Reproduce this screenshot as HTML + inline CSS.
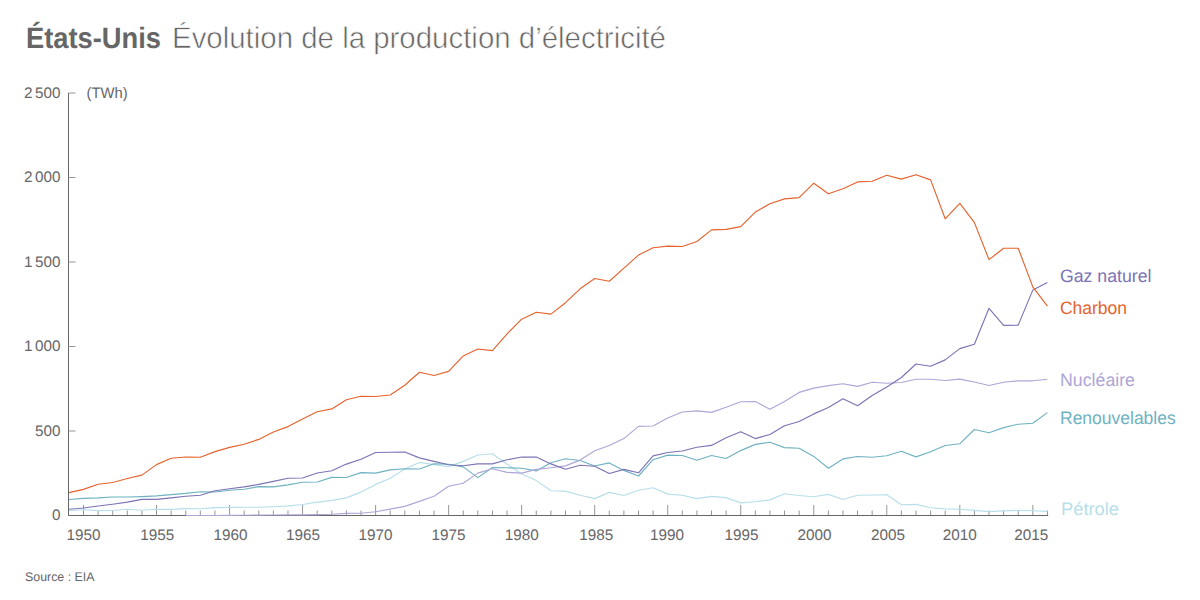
<!DOCTYPE html>
<html lang="fr"><head><meta charset="utf-8"><title>États-Unis Évolution de la production d’électricité</title>
<style>
html,body{margin:0;padding:0;background:#fff;}
body{width:1200px;height:600px;overflow:hidden;position:relative;font-family:"Liberation Sans",Arial,sans-serif;}
svg{position:absolute;left:0;top:0;}
text{text-rendering:geometricPrecision;font-family:"Liberation Sans",Arial,sans-serif;}
.tk{font-size:15.3px;fill:#666;font-family:"Liberation Sans",Arial,sans-serif;}
.yl{word-spacing:-1.6px;}
.lb{font-size:18px;font-family:"Liberation Sans",Arial,sans-serif;}
.t1{font-size:29.5px;font-weight:bold;fill:#666;}
.t2{font-size:30px;fill:#646464;stroke:#fff;stroke-width:0.6px;}
.sr{font-size:12.5px;fill:#666;}
</style></head><body>
<svg width="1200" height="600" viewBox="0 0 1200 600">
<path d="M68.5,93 H75.5" fill="none" stroke="#969696" stroke-width="1"/>
<path d="M68.5,93 V515.5 H1048.2" fill="none" stroke="#666666" stroke-width="1"/>
<path d="M68.5,431.0 H75.5" stroke="#969696" stroke-width="1"/>
<path d="M68.5,346.5 H75.5" stroke="#969696" stroke-width="1"/>
<path d="M68.5,262.0 H75.5" stroke="#969696" stroke-width="1"/>
<path d="M68.5,177.5 H75.5" stroke="#969696" stroke-width="1"/>
<path d="M83.51,515 V505.0" stroke="#969696" stroke-width="1"/>
<path d="M98.11,515 V510.5" stroke="#969696" stroke-width="1"/>
<path d="M112.72,515 V510.5" stroke="#969696" stroke-width="1"/>
<path d="M127.32,515 V510.5" stroke="#969696" stroke-width="1"/>
<path d="M141.93,515 V510.5" stroke="#969696" stroke-width="1"/>
<path d="M156.53,515 V505.0" stroke="#969696" stroke-width="1"/>
<path d="M171.13,515 V510.5" stroke="#969696" stroke-width="1"/>
<path d="M185.74,515 V510.5" stroke="#969696" stroke-width="1"/>
<path d="M200.34,515 V510.5" stroke="#969696" stroke-width="1"/>
<path d="M214.95,515 V510.5" stroke="#969696" stroke-width="1"/>
<path d="M229.56,515 V505.0" stroke="#969696" stroke-width="1"/>
<path d="M244.16,515 V510.5" stroke="#969696" stroke-width="1"/>
<path d="M258.76,515 V510.5" stroke="#969696" stroke-width="1"/>
<path d="M273.37,515 V510.5" stroke="#969696" stroke-width="1"/>
<path d="M287.98,515 V510.5" stroke="#969696" stroke-width="1"/>
<path d="M302.58,515 V505.0" stroke="#969696" stroke-width="1"/>
<path d="M317.19,515 V510.5" stroke="#969696" stroke-width="1"/>
<path d="M331.79,515 V510.5" stroke="#969696" stroke-width="1"/>
<path d="M346.39,515 V510.5" stroke="#969696" stroke-width="1"/>
<path d="M361.00,515 V510.5" stroke="#969696" stroke-width="1"/>
<path d="M375.61,515 V505.0" stroke="#969696" stroke-width="1"/>
<path d="M390.21,515 V510.5" stroke="#969696" stroke-width="1"/>
<path d="M404.82,515 V510.5" stroke="#969696" stroke-width="1"/>
<path d="M419.42,515 V510.5" stroke="#969696" stroke-width="1"/>
<path d="M434.02,515 V510.5" stroke="#969696" stroke-width="1"/>
<path d="M448.63,515 V505.0" stroke="#969696" stroke-width="1"/>
<path d="M463.24,515 V510.5" stroke="#969696" stroke-width="1"/>
<path d="M477.84,515 V510.5" stroke="#969696" stroke-width="1"/>
<path d="M492.45,515 V510.5" stroke="#969696" stroke-width="1"/>
<path d="M507.05,515 V510.5" stroke="#969696" stroke-width="1"/>
<path d="M521.65,515 V505.0" stroke="#969696" stroke-width="1"/>
<path d="M536.26,515 V510.5" stroke="#969696" stroke-width="1"/>
<path d="M550.87,515 V510.5" stroke="#969696" stroke-width="1"/>
<path d="M565.47,515 V510.5" stroke="#969696" stroke-width="1"/>
<path d="M580.08,515 V510.5" stroke="#969696" stroke-width="1"/>
<path d="M594.68,515 V505.0" stroke="#969696" stroke-width="1"/>
<path d="M609.28,515 V510.5" stroke="#969696" stroke-width="1"/>
<path d="M623.89,515 V510.5" stroke="#969696" stroke-width="1"/>
<path d="M638.50,515 V510.5" stroke="#969696" stroke-width="1"/>
<path d="M653.10,515 V510.5" stroke="#969696" stroke-width="1"/>
<path d="M667.71,515 V505.0" stroke="#969696" stroke-width="1"/>
<path d="M682.31,515 V510.5" stroke="#969696" stroke-width="1"/>
<path d="M696.91,515 V510.5" stroke="#969696" stroke-width="1"/>
<path d="M711.52,515 V510.5" stroke="#969696" stroke-width="1"/>
<path d="M726.12,515 V510.5" stroke="#969696" stroke-width="1"/>
<path d="M740.73,515 V505.0" stroke="#969696" stroke-width="1"/>
<path d="M755.34,515 V510.5" stroke="#969696" stroke-width="1"/>
<path d="M769.94,515 V510.5" stroke="#969696" stroke-width="1"/>
<path d="M784.54,515 V510.5" stroke="#969696" stroke-width="1"/>
<path d="M799.15,515 V510.5" stroke="#969696" stroke-width="1"/>
<path d="M813.75,515 V505.0" stroke="#969696" stroke-width="1"/>
<path d="M828.36,515 V510.5" stroke="#969696" stroke-width="1"/>
<path d="M842.97,515 V510.5" stroke="#969696" stroke-width="1"/>
<path d="M857.57,515 V510.5" stroke="#969696" stroke-width="1"/>
<path d="M872.17,515 V510.5" stroke="#969696" stroke-width="1"/>
<path d="M886.78,515 V505.0" stroke="#969696" stroke-width="1"/>
<path d="M901.38,515 V510.5" stroke="#969696" stroke-width="1"/>
<path d="M915.99,515 V510.5" stroke="#969696" stroke-width="1"/>
<path d="M930.60,515 V510.5" stroke="#969696" stroke-width="1"/>
<path d="M945.20,515 V510.5" stroke="#969696" stroke-width="1"/>
<path d="M959.80,515 V505.0" stroke="#969696" stroke-width="1"/>
<path d="M974.41,515 V510.5" stroke="#969696" stroke-width="1"/>
<path d="M989.01,515 V510.5" stroke="#969696" stroke-width="1"/>
<path d="M1003.62,515 V510.5" stroke="#969696" stroke-width="1"/>
<path d="M1018.23,515 V510.5" stroke="#969696" stroke-width="1"/>
<path d="M1032.83,515 V505.0" stroke="#969696" stroke-width="1"/>
<path d="M1047.44,515 V510.5" stroke="#969696" stroke-width="1"/>
<polyline points="68.9,510.7 83.5,509.8 98.1,510.6 112.7,510.5 127.3,509.2 141.9,510.3 156.5,509.2 171.1,509.4 185.7,508.6 200.3,508.7 215.0,507.6 229.6,507.4 244.2,507.3 258.8,507.2 273.4,506.7 288.0,505.9 302.6,504.5 317.2,502.1 331.8,500.4 346.4,497.9 361.0,492.1 375.6,484.4 390.2,478.3 404.8,469.1 419.4,462.4 434.0,464.6 448.6,466.6 463.2,461.4 477.8,455.0 492.4,453.8 507.1,464.2 521.7,473.9 536.3,480.6 550.9,490.7 565.5,491.1 580.1,495.3 594.7,498.6 609.3,492.4 623.9,495.5 638.5,490.3 653.1,487.7 667.7,494.1 682.3,495.3 696.9,498.6 711.5,496.4 726.1,497.6 740.7,502.9 755.3,501.7 769.9,499.9 784.5,493.7 799.1,495.5 813.8,496.7 828.4,494.4 843.0,499.5 857.6,495.3 872.2,495.0 886.8,494.8 901.4,504.7 916.0,504.4 930.6,507.7 945.2,508.9 959.8,509.2 974.4,510.4 989.0,511.6 1003.6,510.9 1018.2,510.4 1032.8,510.7 1047.4,511.4" fill="none" stroke="#b7dfea" stroke-width="1.15" stroke-linejoin="round"/>
<polyline points="68.9,499.5 83.5,498.4 98.1,497.9 112.7,497.0 127.3,497.0 141.9,496.6 156.5,495.9 171.1,494.6 185.7,493.4 200.3,491.7 215.0,492.0 229.6,490.3 244.2,489.2 258.8,486.6 273.4,486.9 288.0,484.9 302.6,482.2 317.2,482.0 331.8,477.4 346.4,477.5 361.0,472.6 375.6,473.1 390.2,469.9 404.8,468.8 419.4,469.0 434.0,463.7 448.6,464.3 463.2,466.9 477.8,477.6 492.4,467.5 507.1,467.8 521.7,468.3 536.3,470.9 550.9,462.7 565.5,458.8 580.1,460.5 594.7,466.0 609.3,462.9 623.9,470.4 638.5,476.0 653.1,459.7 667.7,455.1 682.3,455.5 696.9,460.2 711.5,455.5 726.1,458.5 740.7,450.6 755.3,444.4 769.9,442.3 784.5,447.6 799.1,448.2 813.8,456.4 828.4,468.2 843.0,458.9 857.6,456.5 872.2,457.2 886.8,455.8 901.4,451.3 916.0,456.9 930.6,451.8 945.2,445.5 959.8,443.8 974.4,429.5 989.0,432.7 1003.6,427.6 1018.2,424.2 1032.8,423.2 1047.4,412.6" fill="none" stroke="#6fb2c1" stroke-width="1.15" stroke-linejoin="round"/>
<polyline points="185.7,515.5 200.3,515.5 215.0,515.5 229.6,515.4 244.2,515.2 258.8,515.1 273.4,515.0 288.0,514.9 302.6,514.9 317.2,514.6 331.8,514.2 346.4,513.4 361.0,513.2 375.6,511.8 390.2,509.1 404.8,506.4 419.4,501.4 434.0,496.2 448.6,486.3 463.2,483.2 477.8,473.1 492.4,468.8 507.1,472.4 521.7,473.1 536.3,469.4 550.9,467.7 565.5,465.9 580.1,460.1 594.7,450.7 609.3,445.5 623.9,438.6 638.5,426.4 653.1,426.0 667.7,418.0 682.3,412.0 696.9,410.9 711.5,412.4 726.1,407.3 740.7,401.7 755.3,401.5 769.9,409.3 784.5,401.6 799.1,392.4 813.8,388.1 828.4,385.6 843.0,383.7 857.6,386.4 872.2,382.2 886.8,383.3 901.4,382.5 916.0,379.2 930.6,379.3 945.2,380.5 959.8,379.1 974.4,382.0 989.0,385.5 1003.6,382.2 1018.2,380.8 1032.8,380.8 1047.4,379.3" fill="none" stroke="#aea6d6" stroke-width="1.15" stroke-linejoin="round"/>
<polyline points="68.9,509.2 83.5,508.0 98.1,506.0 112.7,504.2 127.3,502.1 141.9,499.4 156.5,499.4 171.1,497.9 185.7,496.2 200.3,495.2 215.0,490.7 229.6,488.8 244.2,486.9 258.8,484.4 273.4,481.4 288.0,478.3 302.6,478.0 317.2,473.0 331.8,470.7 346.4,464.1 361.0,459.2 375.6,452.5 390.2,452.3 404.8,452.0 419.4,457.9 434.0,461.4 448.6,464.8 463.2,465.7 477.8,463.9 492.4,463.9 507.1,459.8 521.7,457.0 536.3,457.1 550.9,463.9 565.5,469.2 580.1,465.2 594.7,466.2 609.3,473.5 623.9,469.4 638.5,472.8 653.1,455.9 667.7,452.5 682.3,451.0 696.9,447.2 711.5,445.4 726.1,437.7 740.7,431.7 755.3,438.6 769.9,434.5 784.5,425.7 799.1,421.5 813.8,413.9 828.4,407.5 843.0,398.7 857.6,405.7 872.2,395.5 886.8,386.9 901.4,377.5 916.0,364.0 930.6,366.3 945.2,359.9 959.8,348.6 974.4,344.2 989.0,308.3 1003.6,325.4 1018.2,325.1 1032.8,290.1 1047.4,282.6" fill="none" stroke="#7b74b5" stroke-width="1.15" stroke-linejoin="round"/>
<polyline points="68.9,492.6 83.5,489.4 98.1,484.2 112.7,482.5 127.3,478.5 141.9,475.1 156.5,464.6 171.1,458.3 185.7,457.0 200.3,457.3 215.0,451.6 229.6,447.4 244.2,444.2 258.8,439.4 273.4,432.0 288.0,426.6 302.6,419.0 317.2,411.8 331.8,408.9 346.4,399.8 361.0,396.2 375.6,396.5 390.2,395.0 404.8,385.2 419.4,372.2 434.0,375.5 448.6,371.4 463.2,355.9 477.8,349.0 492.4,350.6 507.1,333.8 521.7,319.2 536.3,312.2 550.9,314.1 565.5,302.7 580.1,288.8 594.7,278.5 609.3,281.3 623.9,268.1 638.5,255.1 653.1,247.8 667.7,246.1 682.3,246.5 696.9,241.5 711.5,229.9 726.1,229.4 740.7,226.6 755.3,212.1 769.9,203.7 784.5,198.9 799.1,197.6 813.8,183.2 828.4,193.7 843.0,188.8 857.6,181.9 872.2,181.2 886.8,175.3 901.4,179.1 916.0,174.7 930.6,179.9 945.2,218.8 959.8,203.3 974.4,222.6 989.0,259.6 1003.6,248.3 1018.2,248.2 1032.8,286.9 1047.4,306.1" fill="none" stroke="#e5632d" stroke-width="1.15" stroke-linejoin="round"/>
<text x="60.6" y="97.7" text-anchor="end" class="tk yl">2 500</text>
<text x="60.6" y="182.2" text-anchor="end" class="tk yl">2 000</text>
<text x="60.6" y="266.7" text-anchor="end" class="tk yl">1 500</text>
<text x="60.6" y="351.2" text-anchor="end" class="tk yl">1 000</text>
<text x="60.6" y="435.7" text-anchor="end" class="tk yl">500</text>
<text x="60.6" y="520.2" text-anchor="end" class="tk yl">0</text>
<text x="83.5" y="540" text-anchor="middle" class="tk">1950</text>
<text x="157.3" y="540" text-anchor="middle" class="tk">1955</text>
<text x="230.4" y="540" text-anchor="middle" class="tk">1960</text>
<text x="303.1" y="540" text-anchor="middle" class="tk">1965</text>
<text x="375.6" y="540" text-anchor="middle" class="tk">1970</text>
<text x="448.6" y="540" text-anchor="middle" class="tk">1975</text>
<text x="521.7" y="540" text-anchor="middle" class="tk">1980</text>
<text x="596.2" y="540" text-anchor="middle" class="tk">1985</text>
<text x="666.9" y="540" text-anchor="middle" class="tk">1990</text>
<text x="741.5" y="540" text-anchor="middle" class="tk">1995</text>
<text x="814.6" y="540" text-anchor="middle" class="tk">2000</text>
<text x="888.0" y="540" text-anchor="middle" class="tk">2005</text>
<text x="959.8" y="540" text-anchor="middle" class="tk">2010</text>
<text x="1031.3" y="540" text-anchor="middle" class="tk">2015</text>
<text x="86.6" y="97.8" class="tk" textLength="41.2" lengthAdjust="spacingAndGlyphs">(TWh)</text>
<text x="25" y="581" class="sr" textLength="69.5" lengthAdjust="spacingAndGlyphs">Source : EIA</text>
<text x="26" y="47.7" class="t1" textLength="135" lengthAdjust="spacingAndGlyphs">États-Unis</text>
<text x="172" y="47.7" class="t2" textLength="494" lengthAdjust="spacingAndGlyphs">Évolution de la production d’électricité</text>
<text x="1060" y="282" class="lb" fill="#7b74b5" textLength="91.5" lengthAdjust="spacingAndGlyphs">Gaz naturel</text>
<text x="1060" y="314" class="lb" fill="#e5632d" textLength="67" lengthAdjust="spacingAndGlyphs">Charbon</text>
<text x="1060" y="385.8" class="lb" fill="#aea6d6" textLength="75" lengthAdjust="spacingAndGlyphs">Nucléaire</text>
<text x="1060" y="424.3" class="lb" fill="#6fb2c1" textLength="115.7" lengthAdjust="spacingAndGlyphs">Renouvelables</text>
<text x="1061" y="514.8" class="lb" fill="#b7dfea" textLength="58" lengthAdjust="spacingAndGlyphs">Pétrole</text>
</svg>
</body></html>
